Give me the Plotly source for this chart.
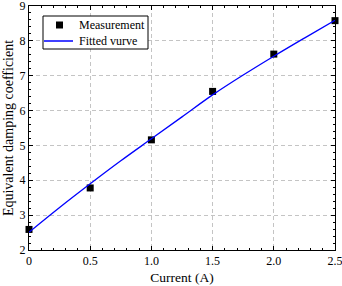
import plotly.graph_objects as go

current = [0, 0.5, 1.0, 1.5, 2.0, 2.5]
measurement = [2.59, 3.78, 5.16, 6.55, 7.62, 8.58]

fit_x = [0, 0.25, 0.5, 0.75, 1.0, 1.25, 1.5, 1.75, 2.0, 2.25, 2.5]
fit_y = [2.51, 3.22, 3.90, 4.56, 5.19, 5.82, 6.45, 7.02, 7.56, 8.08, 8.59]

x_ticks = [0, 0.5, 1.0, 1.5, 2.0, 2.5]
x_ticklabels = ["0", "0.5", "1.0", "1.5", "2.0", "2.5"]
y_ticks = [2, 3, 4, 5, 6, 7, 8, 9]

legend_names = ["Measurement", "Fitted vurve"]

font = "Liberation Serif"

W, H = 342, 286
ML, MR, MT, MB = 29, 7, 6, 36
PW, PH = W - ML - MR, H - MT - MB


def px(x):
    return (x - ML) / PW


def py(y):
    return (H - MB - y) / PH


fig = go.Figure()
fig.add_trace(go.Scatter(
    x=current, y=measurement, mode="markers", name=legend_names[0],
    marker=dict(symbol="square", size=7, color="black"), cliponaxis=False,
    showlegend=False))
fig.add_trace(go.Scatter(
    x=fit_x, y=fit_y, mode="lines", name=legend_names[1],
    line=dict(color="#0000ff", width=1.3), line_shape="spline",
    showlegend=False))

axis_common = dict(
    showline=True, linecolor="black", linewidth=1, mirror="ticks",
    ticks="inside", ticklen=4, tickcolor="black", tickwidth=1,
    showgrid=True, gridcolor="#c4c4c4", griddash="4px,3px", gridwidth=1,
    zeroline=False, tickfont=dict(family=font, size=12, color="black"),
    automargin=False, ticklabeloverflow="allow",
)

fig.update_xaxes(range=[0, 2.5], tickvals=x_ticks, ticktext=x_ticklabels,
                 title=dict(text="Current (A)", font=dict(family=font, size=13.5, color="black"), standoff=5),
                 minor=dict(ticks="inside", ticklen=2, dtick=0.1, tick0=0, tickcolor="black", showgrid=False),
                 **axis_common)
fig.update_yaxes(range=[2, 9], tickvals=y_ticks,
                 title=dict(text="Equivalent damping coefficient", font=dict(family=font, size=14, color="black"), standoff=2),
                 minor=dict(ticks="inside", ticklen=2, dtick=0.2, tick0=0, tickcolor="black", showgrid=False),
                 **axis_common)

# legend box drawn manually
shapes = [
    dict(type="rect", xref="paper", yref="paper", x0=px(43), x1=px(148), y0=py(49), y1=py(16),
         line=dict(color="black", width=1), fillcolor="white", layer="above"),
    dict(type="rect", xref="paper", yref="paper", x0=px(56), x1=px(63), y0=py(28.5), y1=py(21.5),
         line=dict(width=0), fillcolor="black", layer="above"),
    dict(type="line", xref="paper", yref="paper", x0=px(44), x1=px(73), y0=py(41), y1=py(41),
         line=dict(color="#0000ff", width=1.5), layer="above"),
]
annotations = [
    dict(xref="paper", yref="paper", x=px(77), y=py(25), text=legend_names[0], showarrow=False,
         xanchor="left", yanchor="middle", font=dict(family=font, size=12, color="black")),
    dict(xref="paper", yref="paper", x=px(77), y=py(41.5), text=legend_names[1], showarrow=False,
         xanchor="left", yanchor="middle", font=dict(family=font, size=12, color="black")),
]

fig.update_layout(
    width=W, height=H,
    margin=dict(l=ML, r=MR, t=MT, b=MB),
    paper_bgcolor="white", plot_bgcolor="white",
    font=dict(family=font, size=12, color="black"),
    shapes=shapes, annotations=annotations,
    showlegend=False,
)

fig.write_html("out.html", config={"displayModeBar": False},
               post_script="document.body.style.margin='0';document.body.style.padding='0';")
